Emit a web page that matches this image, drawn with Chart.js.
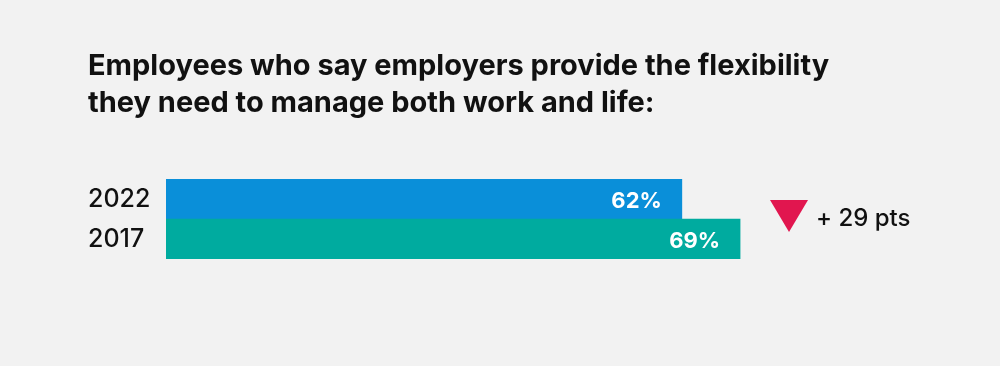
<!DOCTYPE html>
<html><head><meta charset="utf-8">
<script src="https://cdn.jsdelivr.net/npm/chart.js@4"></script>
<style>
html,body{margin:0;padding:0;background:#f2f2f2;}
#wrap{width:1000px;height:366px;position:relative;}
</style></head>
<body><div id="wrap"><canvas id="c" width="1000" height="366"></canvas></div>
<script>
const titleLines = ["Employees who say employers provide the flexibility", "they need to manage both work and life:"];
const categories = ["2022", "2017"];
const values = [62, 69];
const barColors = ["#0a8fd9", "#00ab9f"];
const changeText = "+ 29 pts";
const FONT = "Inter, 'Noto Sans', sans-serif";

const overlay = {
  id: 'overlay',
  afterDatasetsDraw(chart) {
    const ctx = chart.ctx;
    const meta = chart.getDatasetMeta(0);
    ctx.save();
    ctx.fillStyle = '#ffffff';
    ctx.font = "bold 22px " + FONT;
    ctx.textAlign = 'right';
    ctx.textBaseline = 'middle';
    meta.data.forEach((bar, i) => {
      ctx.fillText(values[i] + '%', bar.x - 20, bar.y + 2);
    });
    ctx.fillStyle = '#111111';
    ctx.textAlign = 'left';
    ctx.textBaseline = 'alphabetic';
    ctx.font = "bold 29px " + FONT;
    titleLines.forEach((t, i) => ctx.fillText(t, 88, 75 + i * 37));
    const midY = (meta.data[0].y + meta.data[1].y) / 2;
    ctx.fillStyle = '#e1164f';
    ctx.beginPath();
    ctx.moveTo(770, midY - 19);
    ctx.lineTo(808, midY - 19);
    ctx.lineTo(789, midY + 13);
    ctx.closePath();
    ctx.fill();
    ctx.fillStyle = '#111111';
    ctx.font = "500 24px " + FONT;
    ctx.textBaseline = 'middle';
    ctx.fillText(changeText, 816, midY);
    ctx.restore();
  }
};

new Chart(document.getElementById('c'), {
  type: 'bar',
  data: {
    labels: categories,
    datasets: [{ data: values, backgroundColor: barColors, borderWidth: 0,
      categoryPercentage: 1, barPercentage: 1 }]
  },
  options: {
    indexAxis: 'y',
    responsive: false,
    animation: false,
    events: [],
    layout: { padding: { left: 88, right: 2, top: 179, bottom: 107 } },
    plugins: { legend: { display: false }, tooltip: { enabled: false } },
    scales: {
      x: { display: false, min: 0, max: 100 },
      y: {
        grid: { display: false, drawTicks: false }, border: { display: false },
        afterFit(s) { s.width = 78; },
        ticks: { crossAlign: 'far', padding: 0, color: '#111111',
          font: { family: FONT, size: 25, weight: '500' } }
      }
    }
  },
  plugins: [overlay]
});
</script></body></html>
